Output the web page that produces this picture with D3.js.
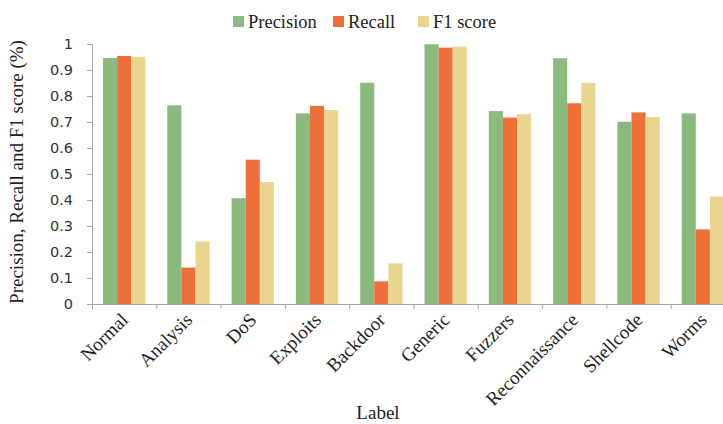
<!DOCTYPE html>
<html>
<head>
<meta charset="utf-8">
<script src="https://cdn.jsdelivr.net/npm/d3@7"></script>
<style>
  html, body { margin: 0; padding: 0; background: #fff; }
  svg { display: block; }
</style>
</head>
<body>
<svg id="chart" width="723" height="424"></svg>
<script>
// Per-class detection metrics
const categories = ["Normal", "Analysis", "DoS", "Exploits", "Backdoor", "Generic", "Fuzzers", "Reconnaissance", "Shellcode", "Worms"];
const seriesNames = ["Precision", "Recall", "F1 score"];
const precision = [0.946, 0.764, 0.407, 0.733, 0.851, 0.999, 0.742, 0.945, 0.701, 0.733];
const recall    = [0.954, 0.140, 0.555, 0.762, 0.087, 0.986, 0.717, 0.772, 0.737, 0.287];
const f1score   = [0.951, 0.240, 0.469, 0.746, 0.156, 0.990, 0.730, 0.850, 0.719, 0.413];
const yTicks = [0, 0.1, 0.2, 0.3, 0.4, 0.5, 0.6, 0.7, 0.8, 0.9, 1];
const colors = ["#8aba7e", "#ef6f3b", "#ead590"];

const series = [precision, recall, f1score];

const svg = d3.select("#chart");
const plot = { left: 92, right: 735, top: 44, bottom: 304 };
const serif = "'Liberation Serif', 'Times New Roman', serif";

const x0 = d3.scaleBand()
  .domain(categories)
  .range([plot.left, plot.right])
  .paddingInner(0.342)
  .paddingOuter(0.171);

const x1 = d3.scaleBand()
  .domain(seriesNames)
  .range([0, x0.bandwidth()])
  .padding(0);

const y = d3.scaleLinear().domain([0, 1]).range([plot.bottom, plot.top]);

// Bars
const groups = svg.append("g")
  .selectAll("g")
  .data(categories)
  .join("g")
  .attr("transform", d => `translate(${x0(d)},0)`);

groups.selectAll("rect")
  .data((d, i) => seriesNames.map((s, j) => ({ s, v: series[j][i], j })))
  .join("rect")
  .attr("x", d => x1(d.s))
  .attr("width", x1.bandwidth())
  .attr("y", d => y(d.v))
  .attr("height", d => y(0) - y(d.v))
  .attr("fill", d => colors[d.j]);

// Y axis
const yAxis = svg.append("g")
  .attr("transform", `translate(${plot.left},0)`)
  .call(d3.axisLeft(y).tickValues(yTicks).tickSize(5).tickPadding(14)
    .tickFormat(d => d === 0 ? "0" : d === 1 ? "1" : d3.format(".1f")(d)));
yAxis.select(".domain").attr("stroke", "#a6a6a6");
yAxis.selectAll(".tick line").attr("stroke", "#a6a6a6");
yAxis.selectAll(".tick text")
  .attr("fill", "#333")
  .style("font-family", "'DejaVu Sans', sans-serif")
  .style("font-size", "14.5px");

// X axis: ticks between groups
const step = x0.step();
const boundaries = d3.range(categories.length + 1).map(i => plot.left + i * step);
const xAxisG = svg.append("g");
xAxisG.append("line")
  .attr("x1", plot.left - 4).attr("x2", plot.right)
  .attr("y1", plot.bottom + 0.5).attr("y2", plot.bottom + 0.5)
  .attr("stroke", "#a6a6a6");
xAxisG.selectAll("line.tk")
  .data(boundaries)
  .join("line")
  .attr("class", "tk")
  .attr("x1", d => d + 0.5).attr("x2", d => d + 0.5)
  .attr("y1", plot.bottom).attr("y2", plot.bottom + 5)
  .attr("stroke", "#a6a6a6");

// Rotated category labels
xAxisG.selectAll("text")
  .data(categories)
  .join("text")
  .attr("transform", d => `translate(${x0(d) + x0.bandwidth() / 2 - 3},${plot.bottom + 9}) rotate(-45)`)
  .attr("text-anchor", "end")
  .attr("dy", "0.6em")
  .attr("fill", "#222")
  .style("font-family", serif)
  .style("font-size", "19px")
  .text(d => d);

// Axis titles
svg.append("text")
  .attr("x", 378).attr("y", 419)
  .attr("text-anchor", "middle")
  .attr("fill", "#222")
  .style("font-family", serif)
  .style("font-size", "19px")
  .text("Label");

svg.append("text")
  .attr("transform", `translate(23,172) rotate(-90)`)
  .attr("text-anchor", "middle")
  .attr("fill", "#222")
  .style("font-family", serif)
  .style("font-size", "19px")
  .text("Precision, Recall and F1 score (%)");

// Legend
const legendX = [233, 333, 418];
const legend = svg.append("g")
  .selectAll("g")
  .data(seriesNames)
  .join("g")
  .attr("transform", (d, i) => `translate(${legendX[i]},16)`);
legend.append("rect")
  .attr("width", 11).attr("height", 11)
  .attr("fill", (d, i) => colors[i]);
legend.append("text")
  .attr("x", 15).attr("y", 12)
  .attr("fill", "#222")
  .style("font-family", serif)
  .style("font-size", "18.5px")
  .text(d => d);
</script>
</body>
</html>
